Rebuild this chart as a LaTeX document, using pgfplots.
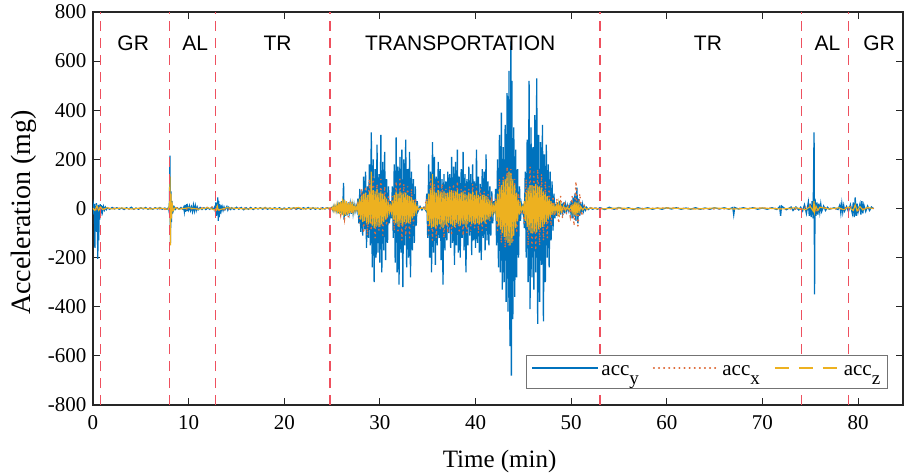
\documentclass[border=0pt]{standalone}
\usepackage{pgfplots}
\pgfplotsset{compat=1.18}
\usepackage{fontspec}
\setmainfont{Liberation Serif}
\newfontfamily\arialfont{Liberation Sans}
\definecolor{myblue}{rgb}{0,0.447,0.741}
\definecolor{myorange}{rgb}{0.85,0.325,0.098}
\definecolor{myyellow}{rgb}{0.929,0.694,0.125}
\definecolor{myred}{RGB}{238,80,95}
\begin{document}
\begin{tikzpicture}
\begin{axis}[
 scale only axis, width=810bp, height=393bp,
 xmin=0, xmax=84.7, ymin=-800, ymax=800,
 xtick={0,10,...,80}, ytick={-800,-600,...,800},
 tick align=inside, tick pos=both, major tick length=7bp,
 axis line style={black!85, line width=1.1bp},
 every tick/.style={black!85, line width=1.1bp},
 tick label style={font=\fontsize{21bp}{24bp}\selectfont},
 /pgf/number format/assume math mode=true,
 xticklabel style={yshift=-7bp},
 yticklabel style={xshift=-3bp},
 xlabel={Time (min)}, ylabel={Acceleration (mg)},
 xlabel style={font=\fontsize{25bp}{28bp}\selectfont, at={(axis description cs:0.502,-0.158)}, anchor=base},
 ylabel style={font=\fontsize{28bp}{30bp}\selectfont, at={(axis description cs:-0.085,0.49)}, anchor=center},
 legend style={at={(0.981,0.041)}, anchor=south east, legend columns=3, draw=black!55, line width=0.8bp, fill=white,
   font=\fontsize{21bp}{24bp}\selectfont, inner xsep=5bp, inner ysep=9bp,
   /tikz/every even column/.append style={column sep=12bp}},
 legend image code/.code={\draw[#1] (0bp,4bp) -- (66bp,4bp);},
 clip=true,
]
% acc_y
\addplot[myblue, line width=1.3bp, forget plot] coordinates {
(0,0)(0.05,12)(0.1,-25)(0.15,18)(0.2,-160)(0.25,10)(0.3,-70)(0.35,22)(0.4,-95)(0.45,8)(0.5,-205)(0.55,15)(0.6,-130)(0.65,12)(0.7,-45)(0.75,18)(0.8,-30)(0.85,14)(0.9,-20)(0.95,10)(1.0,-12)(1.1,8)(1.2,-6)(1.3,5)(1.4,-4)(1.5,3)
(1.75,-3)(2,4)(2.25,-2)(2.5,3)(2.75,-3)(3,2)(3.25,-4)(3.5,3)(3.75,-2)(4,5)(4.25,-3)(4.5,2)(4.75,-3)(5,3)(5.25,-2)(5.5,4)(5.75,-3)(6,2)(6.25,-3)(6.5,3)(6.75,-2)(7,4)(7.25,-3)(7.5,2)(7.75,-3)
(7.9,4)(7.95,-8)(8.0,30)(8.05,215)(8.1,-140)(8.15,70)(8.2,-55)(8.25,30)(8.3,-20)(8.35,12)(8.4,-8)(8.5,5)(8.6,-4)(8.8,3)(9.0,-3)(9.2,4)(9.4,-3)
(9.5,6)(9.55,-10)(9.6,12)(9.65,-14)(9.7,15)(9.75,-12)(9.8,18)(9.85,-10)(9.9,8)(10.0,-6)(10.1,10)(10.2,-8)(10.3,6)(10.4,-12)(10.5,14)(10.6,-10)(10.7,12)(10.8,-8)(10.9,6)(11.0,-5)(11.2,4)(11.4,-4)(11.6,3)(11.8,-4)(12.0,3)(12.2,-3)(12.4,4)(12.6,-3)
(12.75,8)(12.8,-15)(12.85,25)(12.9,-30)(12.95,20)(13.0,-25)(13.05,45)(13.1,-50)(13.15,30)(13.2,-35)(13.25,18)(13.3,-20)(13.35,12)(13.4,-10)(13.5,8)(13.6,-8)(13.7,6)(13.8,-5)(14.0,8)(14.1,-6)(14.2,5)(14.4,-4)
(14.5,3)(14.75,-4)(15,5)(15.25,-3)(15.5,4)(15.75,-5)(16,3)(16.25,-3)(16.5,4)(16.75,-4)(17,3)(17.25,-2)(17.5,3)(17.75,-3)(18,4)(18.25,-3)(18.5,2)(18.75,-3)(19,3)(19.25,-2)(19.5,3)(19.75,-3)(20,2)(20.25,-3)(20.5,3)(20.75,-2)(21,3)(21.25,-3)(21.5,2)(21.75,-3)(22,3)(22.25,-2)(22.5,4)(22.75,-3)(23,3)(23.25,-3)(23.5,2)(23.75,-3)(24,3)(24.25,-2)(24.5,3)(24.75,-3)
(25.0,5)(25.1,-8)(25.2,10)(25.3,-6)(25.4,8)(25.5,-10)
(25.6,15)(25.7,-20)(25.8,25)(25.9,-18)(26.0,30)(26.1,-25)(26.2,104)(26.25,-45)(26.3,35)(26.4,-30)(26.5,20)(26.6,-28)(26.7,25)(26.8,-15)(26.9,18)(27.0,-22)(27.1,28)(27.2,-18)(27.3,15)(27.4,-12)(27.5,10)(27.6,-8)
(27.7,40)(27.8,-60)(27.9,80)(28.0,-95)(28.1,70)(28.2,-110)(28.3,130)(28.4,-85)(28.5,150)(28.6,-160)(28.7,90)(28.8,-120)(28.9,180)(29.0,-150)(29.1,310)(29.2,-240)(29.3,200)(29.4,-300)(29.5,160)(29.6,-200)(29.7,260)(29.8,-180)(29.9,140)(30.0,-220)(30.1,300)(30.2,-260)(30.3,190)(30.4,-170)(30.5,230)(30.6,-210)(30.7,120)(30.8,-140)(30.9,90)(31.0,-60)(31.1,30)
(31.2,-40)(31.3,90)(31.4,-120)(31.5,180)(31.6,-220)(31.7,290)(31.8,-260)(31.9,170)(32.0,-310)(32.1,210)(32.2,-180)(32.3,240)(32.4,-320)(32.5,200)(32.6,-150)(32.7,280)(32.8,-240)(32.9,160)(33.0,-200)(33.1,230)(33.2,-280)(33.3,150)(33.4,-170)(33.5,120)(33.6,-140)(33.7,90)(33.8,-70)(33.9,30)
(34.0,-10)(34.2,8)(34.4,-6)(34.6,5)(34.8,-8)
(34.9,60)(35.0,-120)(35.1,180)(35.2,-200)(35.3,150)(35.4,-260)(35.5,270)(35.6,-180)(35.7,210)(35.8,-230)(35.9,130)(36.0,-150)(36.1,190)(36.2,-120)(36.3,160)(36.4,-210)(36.5,120)(36.6,-310)(36.7,140)(36.8,-170)(36.9,110)(37.0,-130)(37.1,150)(37.2,-100)(37.3,140)(37.4,-160)(37.5,210)(37.6,-140)(37.7,170)(37.8,-230)(37.9,190)(38.0,-150)(38.1,240)(38.2,-180)(38.3,130)(38.4,-200)(38.5,160)(38.6,-120)(38.7,230)(38.8,-170)(38.9,140)(39.0,-260)(39.1,120)(39.2,-150)(39.3,170)(39.4,-110)(39.5,140)(39.6,-190)(39.7,180)(39.8,-130)(39.9,110)(40.0,-160)(40.1,240)(40.2,-140)(40.3,130)(40.4,-180)(40.5,100)(40.6,-210)(40.7,160)(40.8,-120)(40.9,150)(41.0,-170)(41.1,220)(41.2,-130)(41.3,110)(41.4,-150)(41.5,90)(41.6,-110)(41.7,70)(41.8,-60)(41.9,30)
(42.0,-20)(42.1,80)(42.2,-150)(42.3,200)(42.4,-240)(42.5,300)(42.6,-260)(42.7,390)(42.8,-330)(42.9,250)(43.0,-300)(43.1,340)(43.2,-380)(43.3,470)(43.4,-420)(43.5,560)(43.6,-560)(43.7,680)(43.75,-680)(43.8,520)(43.9,-450)(44.0,330)(44.1,-360)(44.2,240)(44.3,-280)(44.4,160)(44.5,-200)(44.6,90)(44.7,-50)
(44.8,15)(44.9,-10)(45.0,20)
(45.1,-80)(45.2,150)(45.3,-200)(45.4,280)(45.5,-300)(45.6,520)(45.7,-410)(45.8,330)(45.9,-280)(46.0,250)(46.1,-330)(46.2,380)(46.3,-260)(46.4,530)(46.5,-470)(46.6,300)(46.7,-380)(46.8,270)(46.9,-230)(47.0,340)(47.1,-460)(47.2,220)(47.3,-300)(47.4,260)(47.5,-200)(47.6,180)(47.7,-240)(47.8,150)(47.9,-130)(48.0,110)(48.1,-90)(48.2,60)(48.3,-40)
(48.4,20)(48.5,-30)(48.6,25)(48.7,-20)(48.8,30)(48.9,-25)(49.0,20)(49.1,-15)(49.2,25)(49.3,-20)(49.4,15)(49.5,-10)(49.6,12)(49.7,-8)(49.8,10)(49.9,-12)(50.0,30)(50.1,-40)(50.2,45)(50.3,-35)(50.4,60)(50.5,-50)(50.6,85)(50.7,-60)(50.8,40)(50.9,-30)(51.0,25)(51.1,-20)(51.2,15)(51.3,-10)(51.4,8)(51.5,-6)(51.6,5)(51.8,-4)
(52.0,3)(52.25,-3)(52.5,2)(52.75,-3)(53,3)(53.5,-4)(54,5)(54.5,-3)(55,4)(55.5,-3)(56,3)(56.5,-4)(57,3)(57.5,-2)(58,3)(58.5,-3)(59,2)(59.5,-3)(60,3)(60.5,-2)(61,3)(61.5,-3)(62,2)(62.5,-3)(63,3)(63.5,-3)(64,2)(64.5,-3)(65,3)(65.5,-2)(66,3)(66.5,-3)(66.9,4)(67.0,-25)(67.1,4)(67.5,-2)(68,3)(68.5,-2)(69,3)(69.5,-3)(70,2)(70.5,-3)(71,3)(71.5,-4)(71.8,8)(71.9,-30)(72.0,10)(72.5,-5)(73,6)(73.2,-8)(73.5,6)(73.8,-6)
(74.0,5)(74.2,-10)(74.4,15)(74.6,-20)(74.8,25)(74.9,-30)(75.0,20)(75.1,-35)(75.2,30)(75.3,-40)(75.4,310)(75.45,-350)(75.5,40)(75.6,-30)(75.7,25)(75.8,-25)(75.9,20)(76.0,-15)(76.1,18)(76.2,-12)(76.4,10)(76.6,-8)(76.8,5)(77.0,-3)(77.5,3)(77.9,-4)
(78.1,15)(78.2,-18)(78.3,20)(78.4,-15)(78.5,12)(78.6,-10)(78.8,8)(79.0,-12)(79.2,15)(79.4,-20)(79.5,25)(79.6,-35)(79.7,45)(79.8,-30)(79.9,20)(80.0,-15)(80.2,18)(80.3,-25)(80.4,30)(80.5,-20)(80.6,15)(80.8,-12)(81.0,10)(81.2,-8)(81.4,6)(81.6,0)
};
\addlegendimage{myblue, line width=2bp}
\addlegendentry{acc\raisebox{-9bp}{\fontsize{19bp}{19bp}\selectfont y}}
% acc_x
\addplot[myorange!85, line width=1.5bp, line cap=round, dash pattern=on 0.6bp off 4.5bp] coordinates {
(0,0)(0.3,-10)(0.5,8)(1,-4)(2,2)(4,-2)(6,2)(8.0,-5)(8.05,40)(8.1,-30)(8.3,5)(10,-3)(13,8)(13.1,-8)(15,2)(20,-2)(25,2)
(25.5,-10)(25.7,20)(25.9,-25)(26.1,30)(26.3,-40)(26.5,25)(26.7,-35)(26.9,30)(27.1,-20)(27.3,15)(27.5,-10)
(27.7,30)(27.9,-60)(28.1,80)(28.3,-100)(28.5,90)(28.7,-110)(28.9,120)(29.1,-90)(29.3,130)(29.5,-120)(29.7,100)(29.9,-90)(30.1,120)(30.3,-110)(30.5,90)(30.7,-70)(30.9,50)(31.1,-20)
(31.3,50)(31.5,-90)(31.7,110)(31.9,-100)(32.1,120)(32.3,-130)(32.5,100)(32.7,-110)(32.9,90)(33.1,-120)(33.3,80)(33.5,-70)(33.7,40)(33.9,-10)
(34.2,5)(34.6,-5)
(34.9,40)(35.1,-110)(35.3,120)(35.5,-130)(35.7,100)(35.9,-120)(36.1,110)(36.3,-90)(36.5,100)(36.7,-120)(36.9,80)(37.1,-100)(37.3,90)(37.5,-110)(37.7,100)(37.9,-80)(38.1,110)(38.3,-100)(38.5,80)(38.7,-110)(38.9,90)(39.1,-100)(39.3,80)(39.5,-90)(39.7,100)(39.9,-80)(40.1,90)(40.3,-100)(40.5,80)(40.7,-90)(40.9,70)(41.1,-80)(41.3,60)(41.5,-50)(41.7,30)(41.9,-15)
(42.1,40)(42.3,-90)(42.5,120)(42.7,-140)(42.9,130)(43.1,-160)(43.3,170)(43.5,-150)(43.7,160)(43.9,-140)(44.1,120)(44.3,-100)(44.5,60)(44.7,-20)
(44.9,10)
(45.1,-60)(45.3,120)(45.5,-150)(45.7,170)(45.9,-160)(46.1,150)(46.3,-170)(46.5,160)(46.7,-150)(46.9,140)(47.1,-130)(47.3,110)(47.5,-120)(47.7,90)(47.9,-70)(48.1,50)(48.3,-30)
(48.5,40)(48.7,-60)(48.9,50)(49.1,-40)(49.3,30)(49.5,-20)(49.7,15)(49.9,-30)(50.1,50)(50.3,-70)(50.5,110)(50.7,-80)(50.9,60)(51.1,-30)(51.3,15)(51.6,-5)(52,2)
(55,-2)(60,2)(65,-2)(70,2)(74,-3)(75.4,20)(75.5,-15)(76,5)(78,-3)(79.7,10)(80,-8)(81,3)(81.6,0)
};
\addlegendentry{acc\raisebox{-9bp}{\fontsize{19bp}{19bp}\selectfont x}}
% acc_z
\addplot[myyellow, line width=1.1bp, forget plot] coordinates {
(0,0)(0.2,-8)(0.4,10)(0.6,-8)(0.8,6)(1,-4)(1.5,3)(2,-2)(3,2)(4,-2)(5,2)(6,-2)(7,2)(7.9,-3)(8.0,20)(8.05,130)(8.1,-150)(8.15,60)(8.2,-40)(8.3,15)(8.4,-8)(8.6,4)(9,-3)(10,3)(11,-3)(12,3)(12.9,-8)(13.0,10)(13.1,-6)(14,3)(16,-2)(18,2)(20,-2)(21.5,4)(22,-2)(23,2)(24,-2)(24.8,3)
(25.0,-5)(25.1,8)(25.2,-10)(25.3,12)(25.4,-10)(25.5,15)(25.6,-20)(25.7,25)(25.8,-22)(25.9,28)(26.0,-25)(26.1,40)(26.2,-30)(26.3,35)(26.4,-28)(26.5,30)(26.6,-25)(26.7,22)(26.8,-20)(26.9,25)(27.0,-18)(27.1,20)(27.2,-15)(27.3,12)(27.4,-10)(27.5,8)(27.6,-6)
(27.7,20)(27.8,-30)(27.9,40)(28.0,-45)(28.1,50)(28.2,-55)(28.3,60)(28.4,-50)(28.5,65)(28.6,-60)(28.7,55)(28.8,-65)(28.9,70)(29.0,-60)(29.1,150)(29.2,-70)(29.3,75)(29.4,-80)(29.5,70)(29.6,-75)(29.7,80)(29.8,-70)(29.9,65)(30.0,-75)(30.1,70)(30.2,-65)(30.3,60)(30.4,-55)(30.5,50)(30.6,-45)(30.7,40)(30.8,-35)(30.9,25)(31.0,-15)(31.1,10)
(31.2,-15)(31.3,30)(31.4,-45)(31.5,55)(31.6,-60)(31.7,70)(31.8,-65)(31.9,60)(32.0,-75)(32.1,70)(32.2,-60)(32.3,65)(32.4,-70)(32.5,60)(32.6,-55)(32.7,65)(32.8,-60)(32.9,55)(33.0,-60)(33.1,50)(33.2,-55)(33.3,45)(33.4,-40)(33.5,35)(33.6,-30)(33.7,25)(33.8,-15)(33.9,8)
(34.0,-4)(34.4,3)(34.8,-4)
(34.9,30)(35.0,-50)(35.1,60)(35.2,-70)(35.3,75)(35.4,-80)(35.5,140)(35.6,-75)(35.7,70)(35.8,-80)(35.9,65)(36.0,-70)(36.1,75)(36.2,-65)(36.3,70)(36.4,-75)(36.5,65)(36.6,-80)(36.7,70)(36.8,-65)(36.9,60)(37.0,-70)(37.1,65)(37.2,-60)(37.3,70)(37.4,-65)(37.5,75)(37.6,-70)(37.7,65)(37.8,-75)(37.9,70)(38.0,-60)(38.1,75)(38.2,-65)(38.3,60)(38.4,-70)(38.5,65)(38.6,-60)(38.7,70)(38.8,-65)(38.9,60)(39.0,-75)(39.1,55)(39.2,-60)(39.3,65)(39.4,-55)(39.5,60)(39.6,-65)(39.7,70)(39.8,-60)(39.9,55)(40.0,-65)(40.1,70)(40.2,-60)(40.3,55)(40.4,-65)(40.5,50)(40.6,-60)(40.7,55)(40.8,-50)(40.9,55)(41.0,-60)(41.1,50)(41.2,-45)(41.3,40)(41.4,-45)(41.5,35)(41.6,-30)(41.7,25)(41.8,-20)(41.9,10)
(42.0,-10)(42.1,30)(42.2,-50)(42.3,60)(42.4,-70)(42.5,80)(42.6,-85)(42.7,95)(42.8,-100)(42.9,110)(43.0,-115)(43.1,120)(43.2,-130)(43.3,135)(43.4,-140)(43.5,150)(43.6,-150)(43.7,145)(43.8,-140)(43.9,120)(44.0,-110)(44.1,95)(44.2,-80)(44.3,65)(44.4,-50)(44.5,35)(44.6,-25)(44.7,15)
(44.8,-8)(44.9,6)(45.0,-10)
(45.1,30)(45.2,-50)(45.3,65)(45.4,-75)(45.5,85)(45.6,-90)(45.7,95)(45.8,-100)(45.9,95)(46.0,-100)(46.1,90)(46.2,-95)(46.3,100)(46.4,-95)(46.5,90)(46.6,-85)(46.7,90)(46.8,-80)(46.9,85)(47.0,-75)(47.1,70)(47.2,-65)(47.3,60)(47.4,-55)(47.5,50)(47.6,-45)(47.7,40)(47.8,-35)(47.9,30)(48.0,-25)(48.1,20)(48.2,-15)(48.3,10)
(48.4,-10)(48.5,15)(48.6,-18)(48.7,20)(48.8,-18)(48.9,15)(49.0,-12)(49.2,10)(49.4,-8)(49.6,6)(49.8,-5)(50.0,8)(50.1,-15)(50.2,20)(50.3,-25)(50.4,28)(50.5,-30)(50.6,25)(50.7,-20)(50.8,15)(50.9,-10)(51.0,8)(51.2,-6)(51.4,4)(51.6,-3)(52,2)
(53,-2)(55,2)(57,-2)(60,2)(63,-2)(65,2)(67,-2)(70,2)(72,-2)(73.5,3)(74.5,-5)(75.0,8)(75.3,-10)(75.4,30)(75.45,-15)(75.6,10)(75.8,-8)(76,5)(77,-2)(78,3)(78.5,-5)(79,6)(79.5,-8)(79.7,15)(79.9,-10)(80.2,8)(80.5,-6)(81,4)(81.6,0)
};
\addlegendimage{myyellow, line width=2bp, dash pattern=on 14bp off 10bp}
\addlegendentry{acc\raisebox{-9bp}{\fontsize{19bp}{19bp}\selectfont z}}
% phase boundaries
\addplot[myred, line width=1.6bp, dash pattern=on 10bp off 7bp, forget plot] coordinates {(0.8,-800)(0.8,800)};
\addplot[myred, line width=1.6bp, dash pattern=on 10bp off 7bp, forget plot] coordinates {(8.0,-800)(8.0,800)};
\addplot[myred, line width=1.6bp, dash pattern=on 10bp off 7bp, forget plot] coordinates {(12.8,-800)(12.8,800)};
\addplot[myred, line width=1.6bp, dash pattern=on 10bp off 7bp, forget plot] coordinates {(24.8,-800)(24.8,800)};
\addplot[myred, line width=1.6bp, dash pattern=on 10bp off 7bp, forget plot] coordinates {(53.0,-800)(53.0,800)};
\addplot[myred, line width=1.6bp, dash pattern=on 10bp off 7bp, forget plot] coordinates {(74.1,-800)(74.1,800)};
\addplot[myred, line width=1.6bp, dash pattern=on 10bp off 7bp, forget plot] coordinates {(79.0,-800)(79.0,800)};
\node[font=\arialfont\fontsize{21bp}{24bp}\selectfont] at (axis cs:4.2,672) {GR};
\node[font=\arialfont\fontsize{21bp}{24bp}\selectfont] at (axis cs:10.7,672) {AL};
\node[font=\arialfont\fontsize{21bp}{24bp}\selectfont] at (axis cs:19.3,672) {TR};
\node[font=\arialfont\fontsize{21bp}{24bp}\selectfont] at (axis cs:38.4,672) {TRANSPORTATION};
\node[font=\arialfont\fontsize{21bp}{24bp}\selectfont] at (axis cs:64.3,672) {TR};
\node[font=\arialfont\fontsize{21bp}{24bp}\selectfont] at (axis cs:76.8,672) {AL};
\node[font=\arialfont\fontsize{21bp}{24bp}\selectfont] at (axis cs:82.2,672) {GR};
\end{axis}
\pgfresetboundingbox
\useasboundingbox (-93bp,-70bp) rectangle (812bp,405bp);
\end{tikzpicture}
\end{document}
